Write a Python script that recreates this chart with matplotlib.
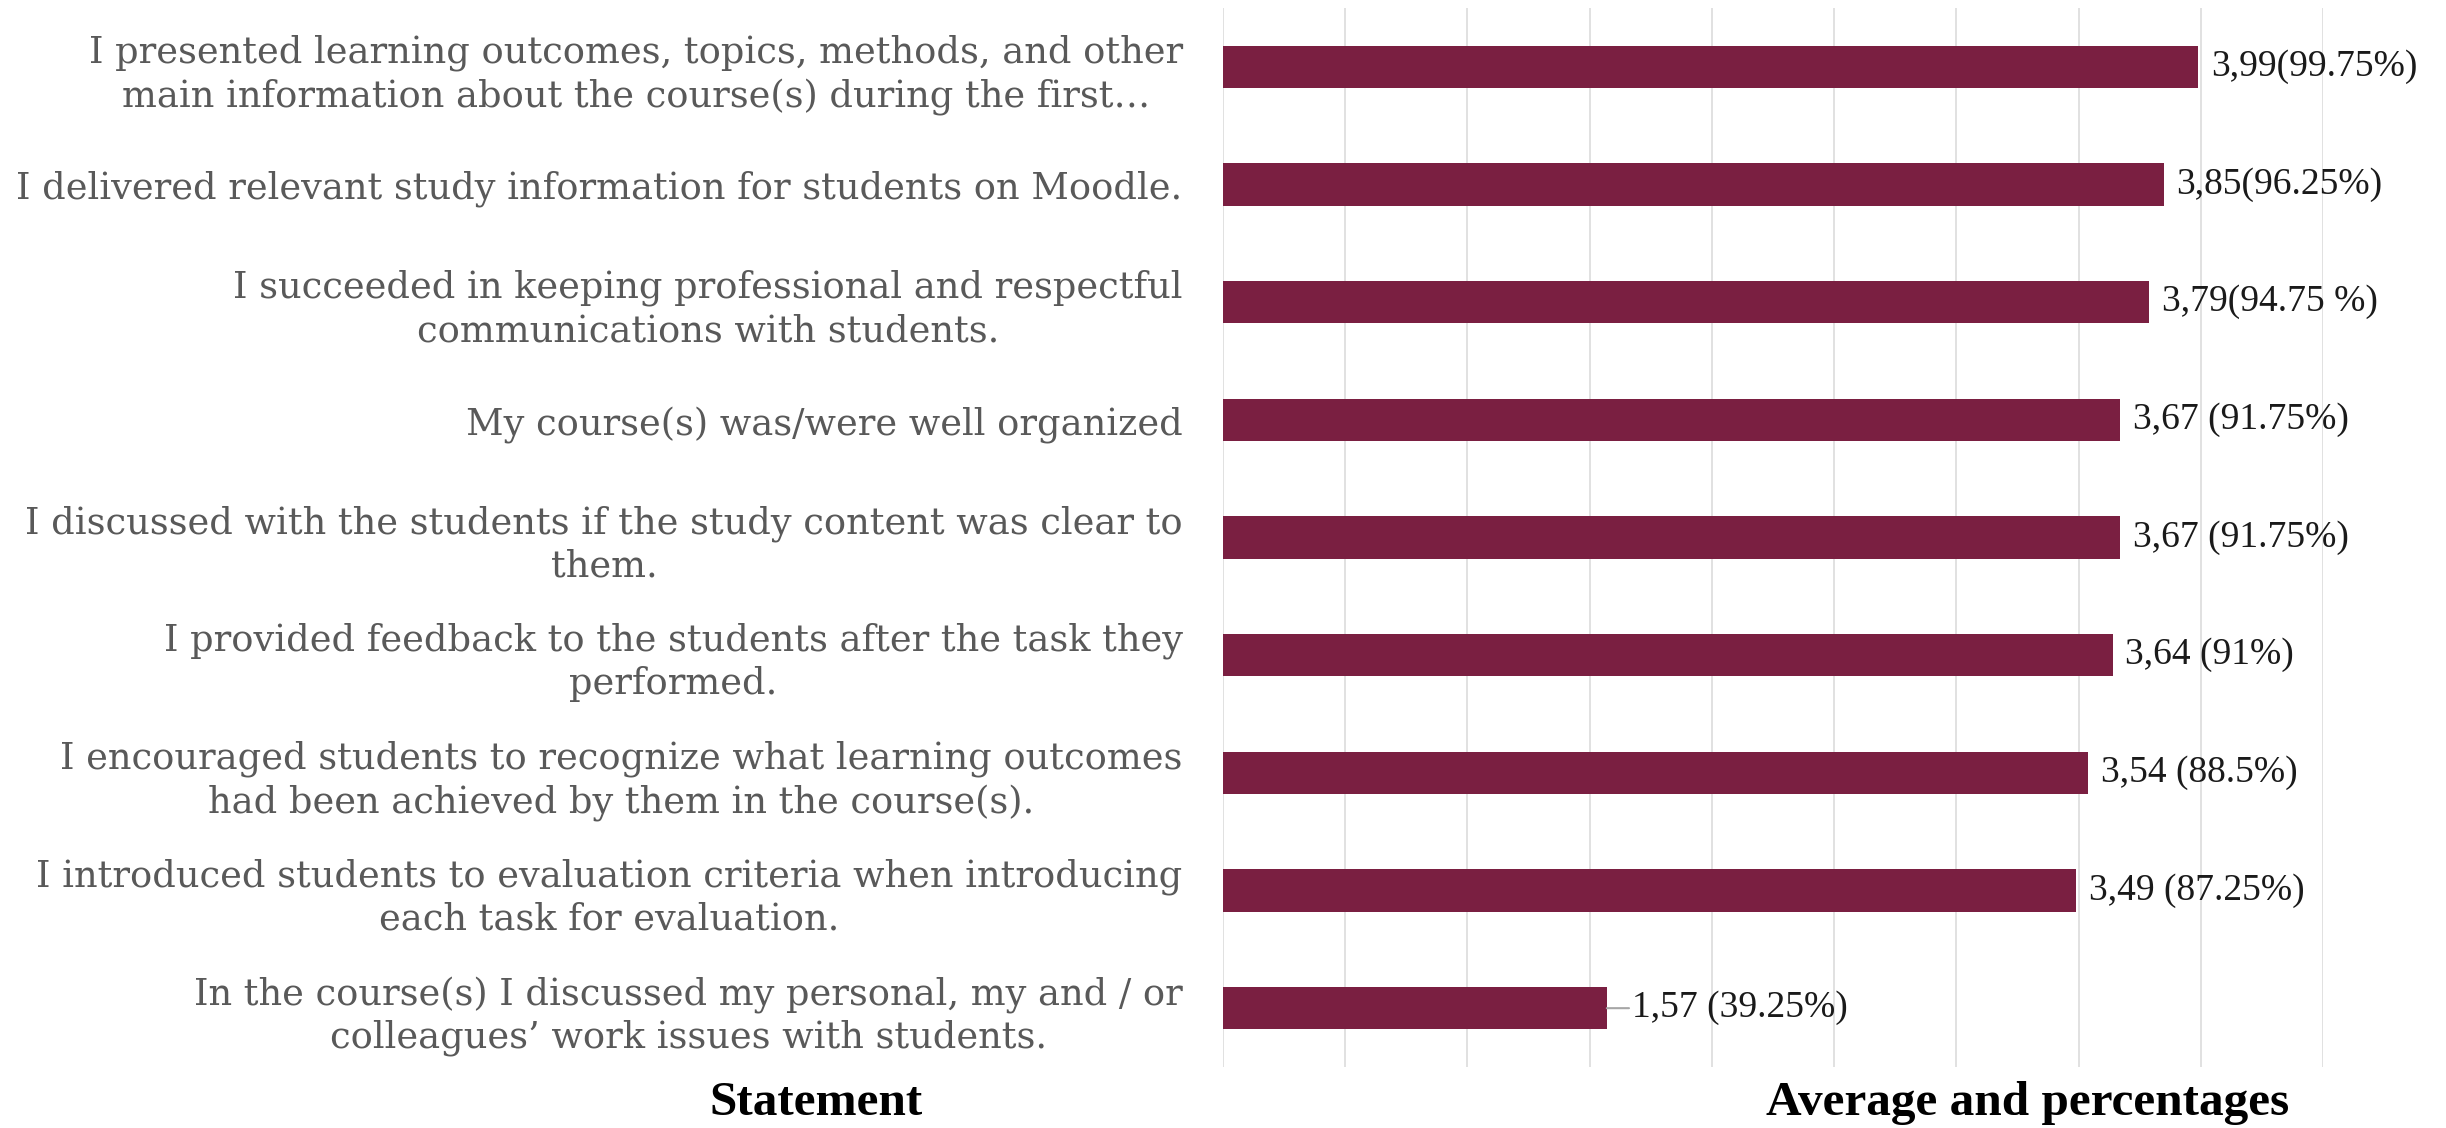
import numpy as np
import matplotlib
matplotlib.use("Agg")
import matplotlib.pyplot as plt

statements = [
    "I presented learning outcomes, topics, methods, and other\nmain information about the course(s) during the first…",
    "I delivered relevant study information for students on Moodle.",
    "I succeeded in keeping professional and respectful\ncommunications with students.",
    "My course(s) was/were well organized",
    "I discussed with the students if the study content was clear to\nthem.",
    "I provided feedback to the students after the task they\nperformed.",
    "I encouraged students to recognize what learning outcomes\nhad been achieved by them in the course(s).",
    "I introduced students to evaluation criteria when introducing\neach task for evaluation.",
    "In the course(s) I discussed my personal, my and / or\ncolleagues’ work issues with students.",
]
averages = [3.99, 3.85, 3.79, 3.67, 3.67, 3.64, 3.54, 3.49, 1.57]
value_labels = [
    "3,99(99.75%)",
    "3,85(96.25%)",
    "3,79(94.75 %)",
    "3,67 (91.75%)",
    "3,67 (91.75%)",
    "3,64 (91%)",
    "3,54 (88.5%)",
    "3,49 (87.25%)",
    "1,57 (39.25%)",
]

plt.rcParams['font.family'] = ['DejaVu Serif']

fig = plt.figure(figsize=(24.46, 11.28), dpi=100)
ax = fig.add_axes([1223 / 2446, 1 - 1067 / 1128, 1100 / 2446, 1059 / 1128])

y = np.arange(len(averages))
ax.barh(y, averages, height=0.36, color='#7a1f41', zorder=3)

ax.set_xlim(0, 4.5)
ax.set_ylim(len(averages) - 0.5, -0.5)
ax.set_xticks(np.arange(0, 4.51, 0.5))
ax.set_xticklabels([])
ax.tick_params(axis='x', length=0)
ax.grid(axis='x', color='#d9d9d9', linewidth=1.1, zorder=0)
ax.grid(axis='y', visible=False)
for s in ax.spines.values():
    s.set_visible(False)

ax.set_yticks(y)
ax.set_yticklabels(statements, fontsize=26.5, color='#595959',
                   multialignment='center', linespacing=1.25)
ax.tick_params(axis='y', length=0, pad=29)

# value labels to the right of the bars
for yi, v, lab in zip(y, averages, value_labels):
    if v < 2:
        ax.annotate(lab, xy=(v, yi), xytext=(18, 0), textcoords='offset points',
                    ha='left', va='center', fontsize=27, color='#1a1a1a',
                    family='Liberation Serif',
                    arrowprops=dict(arrowstyle='-', color='#a6a6a6', lw=1.5,
                                    shrinkA=0, shrinkB=0))
    else:
        ax.annotate(lab, xy=(v, yi), xytext=(9, 0), textcoords='offset points',
                    ha='left', va='center', fontsize=27, color='#1a1a1a',
                    family='Liberation Serif')

fig.text(816 / 2446, 1 - 1115 / 1128, "Statement", ha='center', va='baseline',
         fontsize=35.5, fontweight='bold', color='black', family='Liberation Serif')
fig.text(2028 / 2446, 1 - 1115 / 1128, "Average and percentages", ha='center',
         va='baseline', fontsize=35.5, fontweight='bold', color='black',
         family='Liberation Serif')

fig.savefig('out.png', dpi=100)
